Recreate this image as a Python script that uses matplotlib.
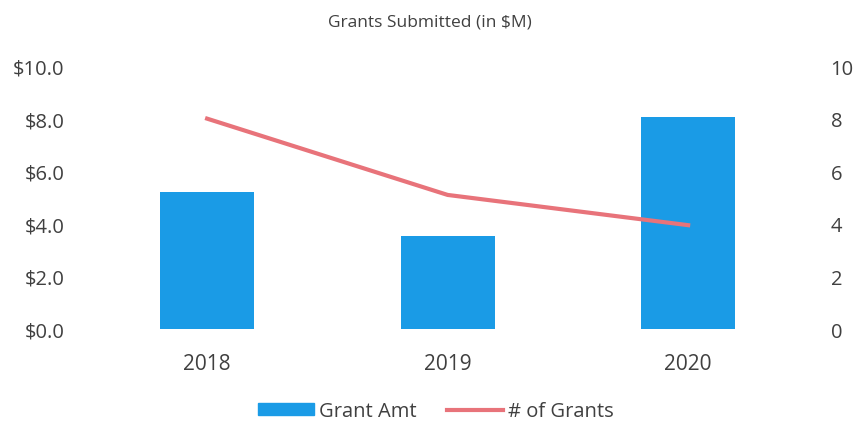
import matplotlib
matplotlib.use('Agg')
import matplotlib.pyplot as plt
from matplotlib.lines import Line2D
from matplotlib.patches import Patch

years = ["2018", "2019", "2020"]
grant_amt = [5.2, 3.55, 8.05]
num_grants = [8.0, 5.1, 3.95]

bar_color = "#1a9be6"
line_color = "#e8737a"
text_color = "#404040"

plt.rcParams['font.family'] = ['Open Sans', 'DejaVu Sans']

fig = plt.figure(figsize=(8.6, 4.27), dpi=100)
ax = fig.add_axes([0.101, 0.227, 0.839, 0.616])
x = list(range(len(years)))
ax.bar(x, grant_amt, width=0.39, color=bar_color)
ax.set_ylim(0, 10)
ax.set_xlim(-0.5, 2.5)
ax.set_yticks([0, 2, 4, 6, 8, 10])
ax.set_yticklabels(["${:.1f}".format(v) for v in [0, 2, 4, 6, 8, 10]])
ax.set_xticks(x)
ax.set_xticklabels(years)

ax2 = ax.twinx()
ax2.plot(x, num_grants, color=line_color, linewidth=3.0)
ax2.set_ylim(0, 10)
ax2.set_yticks([0, 2, 4, 6, 8, 10])

for a in (ax, ax2):
    for s in a.spines.values():
        s.set_visible(False)
    a.tick_params(length=0, colors=text_color, labelsize=14.5)
ax.tick_params(axis='y', pad=16)
ax.tick_params(axis='x', pad=17, labelsize=15)
ax2.tick_params(axis='y', pad=16)

fig.text(0.5, 0.948, "Grants Submitted (in $M)", ha='center', va='center',
         fontsize=12.5, color=text_color)

handles = [Patch(color=bar_color), Line2D([], [], color=line_color, linewidth=3.0)]
fig.legend(handles, ["Grant Amt", "# of Grants"], loc='center',
           bbox_to_anchor=(0.507, 0.035), ncol=2, frameon=False,
           fontsize=14.5, labelcolor=text_color, handlelength=2.8,
           handleheight=0.5, handletextpad=0.25, columnspacing=1.5)

plt.savefig("out.png")
